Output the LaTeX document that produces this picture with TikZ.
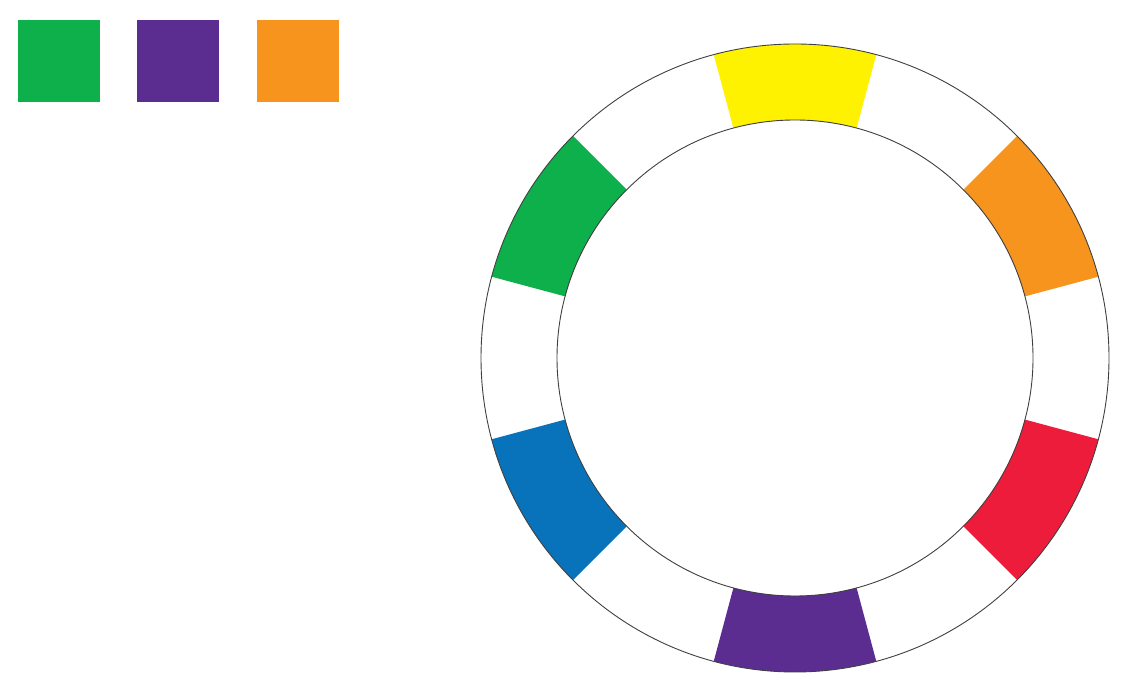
\documentclass[tikz,border=0pt]{standalone}
\definecolor{cgreen}{HTML}{0DB04B}
\definecolor{cpurple}{HTML}{5B2D90}
\definecolor{corange}{HTML}{F7941E}
\definecolor{cyellow}{HTML}{FFF200}
\definecolor{cred}{HTML}{ED1C3A}
\definecolor{cblue}{HTML}{0872BA}
\tikzset{
  swatch/.style={minimum width=82pt, minimum height=82pt, inner sep=0pt, draw=none, anchor=north west},
  ringline/.style={draw=black!75, line width=0.9pt}
}
\newcommand{\sector}[2]{%
  \fill[#1] (#2-15:314) arc[start angle=#2-15, end angle=#2+15, radius=314]
    -- (#2+15:238) arc[start angle=#2+15, end angle=#2-15, radius=238] -- cycle;}
\begin{document}
\begin{tikzpicture}[x=1pt,y=1pt]
\useasboundingbox (0,0) rectangle (1137,687);
\fill[white] (0,0) rectangle (1137,687);
% swatches
\node[swatch, fill=cgreen] (sg) at (18,667) {};
\node[swatch, fill=cpurple] (sp) at (137,667) {};
\node[swatch, fill=corange] (so) at (257,667) {};
% ring
\begin{scope}[shift={(795,329)}]
  \sector{cyellow}{90}
  \sector{corange}{30}
  \sector{cred}{-30}
  \sector{cpurple}{-90}
  \sector{cblue}{-150}
  \sector{cgreen}{150}
  \draw[ringline] (0,0) circle[radius=314];
  \draw[ringline] (0,0) circle[radius=238];
\end{scope}
\end{tikzpicture}
\end{document}
